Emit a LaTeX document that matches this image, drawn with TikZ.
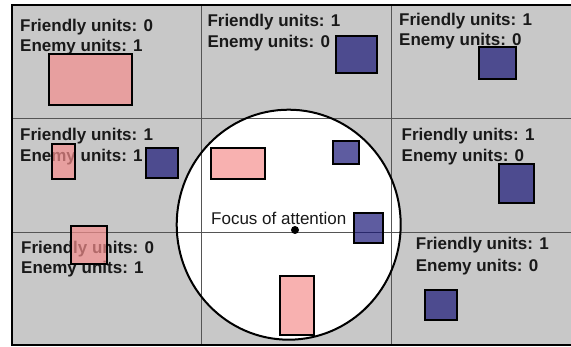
\documentclass[tikz,border=0pt]{standalone}
\usepackage{fontspec}
\setmainfont{Liberation Sans}
\definecolor{bggray}{RGB}{200,200,200}
\definecolor{gridgray}{RGB}{85,85,85}
\definecolor{friendpink}{RGB}{246,142,141}
\definecolor{enemyblue}{RGB}{22,20,118}
\begin{document}
\begin{tikzpicture}[x=1pt,y=-1pt,
  lbl/.style={font=\fontsize{17}{20}\selectfont\bfseries, anchor=base west, inner sep=0pt, text=black!90},
  focuslbl/.style={font=\fontsize{17}{20}\selectfont, anchor=base west, inner sep=0pt, text=black!90},
  gridline/.style={draw=gridgray, line width=1pt},
  pinkunit/.style={draw=black, line width=1.4pt, fill=friendpink, fill opacity=0.69},
  blueunit/.style={draw=black, line width=1.4pt, fill=enemyblue, fill opacity=0.69}]
\useasboundingbox (0,0) rectangle (571,347);
\fill[white] (0,0) rectangle (571,347);
\fill[bggray] (12,5) rectangle (571,345);
% focus circle fill
\fill[white] (288.7,224.7) ellipse [x radius=112, y radius=115];
% grid
\draw[gridline] (201,5) -- (201,345);
\draw[gridline] (391,5) -- (391,345);
\draw[gridline] (12,119) -- (571,119);
\draw[gridline] (12,233) -- (571,233);
% circle outline and focus point
\draw[line width=2pt] (288.7,224.7) ellipse [x radius=112, y radius=115];
\fill (295,230) circle [radius=4];
\node[focuslbl] (focus) at (211,224.3) {Focus of attention};
% outer frame
\draw[line width=2.2pt] (571,5) -- (12,5) -- (12,345) -- (571,345);
% labels
\node[lbl] (f00) at (20,31.7) {Friendly units: 0};
\node[lbl] (e00) at (20,51.7) {Enemy units: 1};
\node[lbl] (f10) at (207.3,26.7) {Friendly units: 1};
\node[lbl] (e10) at (207.3,47.3) {Enemy units: 0};
\node[lbl] (f20) at (399,26) {Friendly units: 1};
\node[lbl] (e20) at (399,45.5) {Enemy units: 0};
\node[lbl] (f01) at (20,140.7) {Friendly units: 1};
\node[lbl] (e01) at (20,162) {Enemy units: 1};
\node[lbl] (f21) at (401.5,140.7) {Friendly units: 1};
\node[lbl] (e21) at (401.5,161.3) {Enemy units: 0};
\node[lbl] (f02) at (21,253.3) {Friendly units: 0};
\node[lbl] (e02) at (21,274) {Enemy units: 1};
\node[lbl] (f22) at (415.7,250) {Friendly units: 1};
\node[lbl] (e22) at (415.7,271.7) {Enemy units: 0};
% friendly (pink) units
\draw[pinkunit] (49,54) rectangle (132,105);
\draw[pinkunit] (52,144) rectangle (75,179);
\draw[pinkunit] (71,226) rectangle (107,264);
\draw[pinkunit] (211,148) rectangle (265,179);
\draw[pinkunit] (280,276) rectangle (314,335);
% enemy (blue) units
\draw[blueunit] (336,36) rectangle (377,73);
\draw[blueunit] (479,47) rectangle (516,79);
\draw[blueunit] (146,148) rectangle (178,178);
\draw[blueunit] (333,141) rectangle (359,164);
\draw[blueunit] (354,213) rectangle (383,243);
\draw[blueunit] (499,164) rectangle (534,203);
\draw[blueunit] (425,290) rectangle (457,320);
\end{tikzpicture}
\end{document}
